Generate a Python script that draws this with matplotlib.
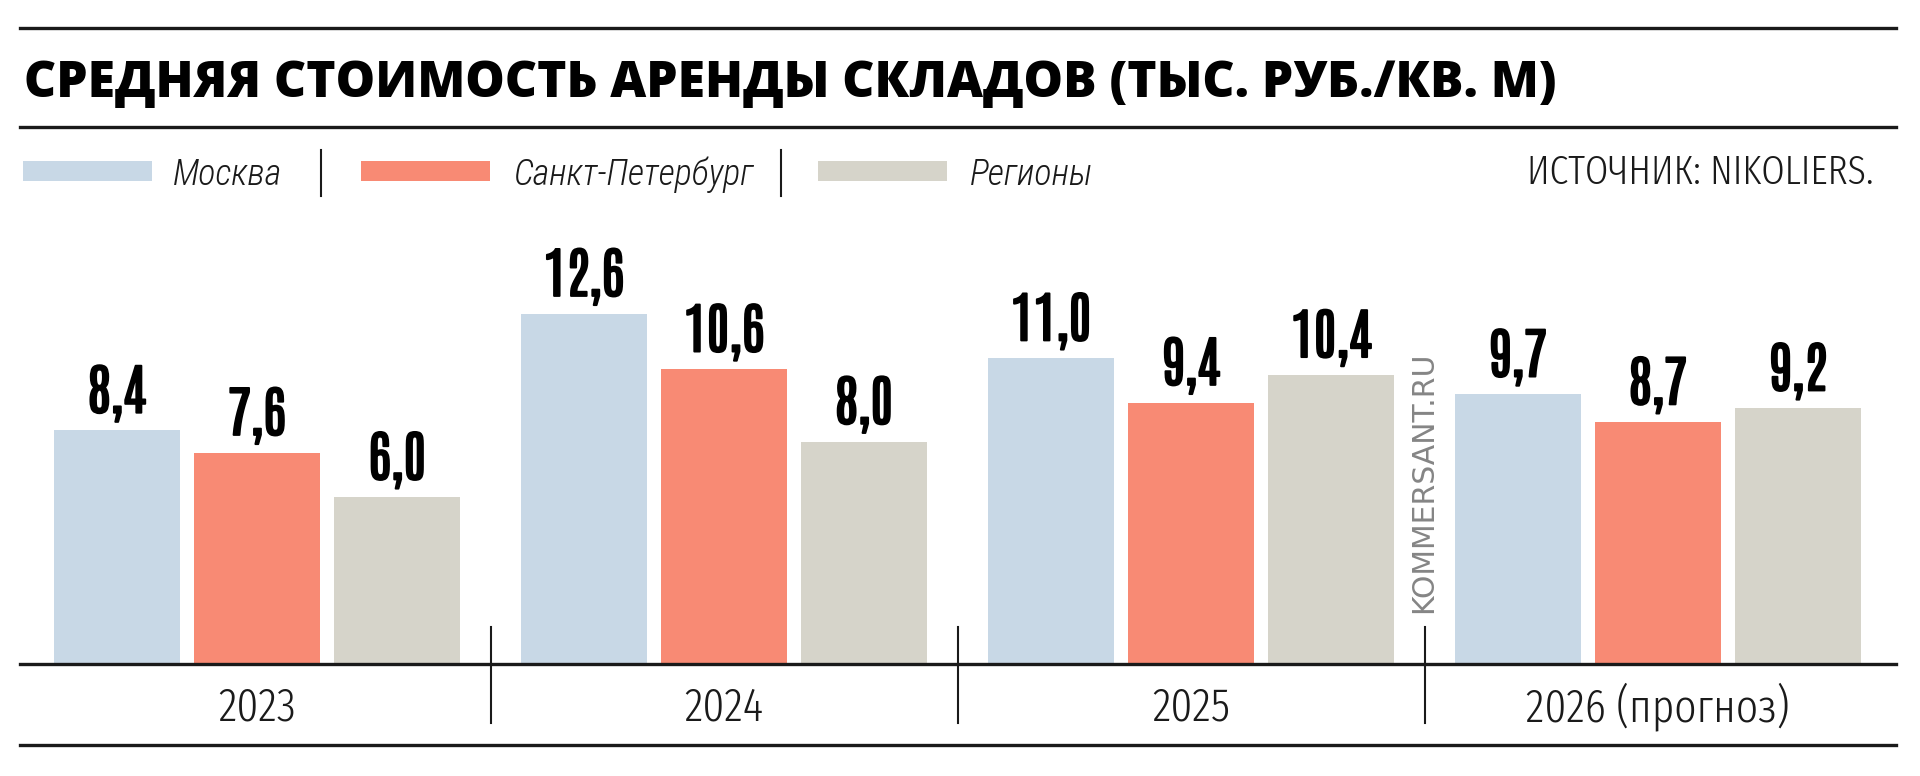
import os
import matplotlib
matplotlib.use("Agg")
import matplotlib.pyplot as plt
import matplotlib.patheffects as pe
from matplotlib import font_manager as fm
from matplotlib.patches import Rectangle
from matplotlib.textpath import TextPath
import numpy as np

# data
years = ["2023", "2024", "2025", "2026 (прогноз)"]
series = ["Москва", "Санкт-Петербург", "Регионы"]
moscow = [8.4, 12.6, 11.0, 9.7]
spb = [7.6, 10.6, 9.4, 8.7]
regions = [6.0, 8.0, 10.4, 9.2]
colors = ["#c8d8e6", "#f88a74", "#d6d4ca"]

title = "СРЕДНЯЯ СТОИМОСТЬ АРЕНДЫ СКЛАДОВ (ТЫС. РУБ./КВ. М)"
source = "ИСТОЧНИК: NIKOLIERS."
watermark = "KOMMERSANT.RU"

W, H = 1920, 776
DPI = 100
ink = "#1a1a1a"

all_fonts = fm.findSystemFonts()
by_name = {os.path.basename(f).lower(): f for f in all_fonts}


def find_file(names):
    for n in names:
        if n.lower() in by_name:
            return fm.FontProperties(fname=by_name[n.lower()])
    return None


def find_family(fam, weight="normal"):
    try:
        path = fm.findfont(fm.FontProperties(family=fam, weight=weight),
                           fallback_to_default=False)
        return fm.FontProperties(fname=path)
    except ValueError:
        return None


def extent(fp, s):
    return TextPath((0, 0), s, size=100, prop=fp).get_extents()


def size_for_height(fp, s, px):
    # font size (pt) giving glyph height of px pixels
    h = extent(fp, s).height
    return px / (h / 100) * 72 / DPI


# title: heavy grotesque, pick the one with proportions closest to the reference
title_cands = [find_file([n]) for n in ["Roboto-Black.ttf", "NotoSans-Black.ttf",
               "Inter-Black.ttf", "Inter_24pt-Black.ttf", "Inter_18pt-Black.ttf",
               "FiraSans-Black.ttf", "OpenSans-ExtraBold.ttf"]]
title_cands = [c for c in title_cands if c is not None]
target = 1548 / 35
if title_cands:
    f_title = min(title_cands,
                  key=lambda fp: abs(extent(fp, title).width / extent(fp, "Н").height - target))
else:
    f_title = fm.FontProperties(family="DejaVu Sans", weight="bold")
s_cap = size_for_height(f_title, "Н", 35)
s_wid = 1548 / (extent(f_title, title).width / 100) * 72 / DPI
title_size = (s_cap * s_wid) ** 0.5

f_value = (find_file(["Antonio-Bold.ttf", "Oswald-SemiBold.ttf"]) or find_family("Antonio", "bold")
           or find_family("Oswald", "bold")
           or find_file(["FiraSansExtraCondensed-Bold.ttf"])
           or fm.FontProperties(family="DejaVu Sans", weight="bold"))
value_size = size_for_height(f_value, "8", 48)
bolder = [pe.withStroke(linewidth=1.4, foreground="black")]

f_italic = (find_file(["RobotoCondensed-LightItalic.ttf", "FiraSansExtraCondensed-LightItalic.ttf"])
            or fm.FontProperties(family="Liberation Sans", style="italic"))
f_reg = (find_file(["FiraSansExtraCondensed-Light.ttf", "RobotoCondensed-Light.ttf"])
         or fm.FontProperties(family="Liberation Sans"))


def fx(px):
    return px / W


def fy(px):
    return 1 - px / H


fig = plt.figure(figsize=(W / DPI, H / DPI), dpi=DPI)

# horizontal rules
for y in (28, 127, 745):
    fig.add_artist(plt.Line2D([fx(20), fx(1896)], [fy(y), fy(y)], color=ink, lw=2.4))

fig.text(fx(24), fy(97), title, fontproperties=f_title, fontsize=title_size, color="black",
         va="baseline", ha="left")

# legend
patch_x = [23, 361, 818]
text_x = [173, 513, 970]
for px, tx, name, c in zip(patch_x, text_x, series, colors):
    fig.add_artist(Rectangle((fx(px), fy(181)), fx(129), 20 / H, transform=fig.transFigure,
                             color=c, lw=0))
    fig.text(fx(tx), fy(185), name, fontproperties=f_italic, fontsize=26, color=ink,
             va="baseline", ha="left")
for sx in (321, 781):
    fig.add_artist(plt.Line2D([fx(sx), fx(sx)], [fy(150), fy(196)], color=ink, lw=1.5))
fig.text(fx(1874), fy(184), source, fontproperties=f_reg, fontsize=29.5, color=ink,
         va="baseline", ha="right")

# bars
ax = fig.add_axes([fx(20), 1 - 664 / H, fx(1876), 389.2 / H])
x = np.arange(len(years))
offs = [-0.3, 0.0, 0.3]
bw = 0.27
for vals, off, c in zip([moscow, spb, regions], offs, colors):
    ax.bar(x + off, vals, width=bw, color=c, lw=0)
    for xi, v in zip(x, vals):
        ax.text(xi + off, v + 0.64, f"{v:.1f}".replace(".", ","), fontproperties=f_value,
                fontsize=value_size, ha="center", va="baseline", color="black",
                path_effects=bolder)
ax.set_xlim(-0.5075, -0.5075 + 1876 / 467)
ax.set_ylim(0, 14)
ax.axhline(0, color=ink, lw=2.4, clip_on=False)
for sx in (0.5, 1.5, 2.5):
    ax.plot([sx, sx], [1.33, -2.12], color=ink, lw=1.5, clip_on=False)
for xi, yl in zip(x, years):
    ax.text(xi, -2.05, yl, fontproperties=f_reg, fontsize=34, ha="center", va="baseline",
            color=ink)
ax.axis("off")

fig.text(fx(1424), fy(482), watermark, rotation=90, color="#858585", fontsize=21.5,
         family="DejaVu Sans", ha="center", va="center")

fig.savefig("out.png", dpi=DPI)
